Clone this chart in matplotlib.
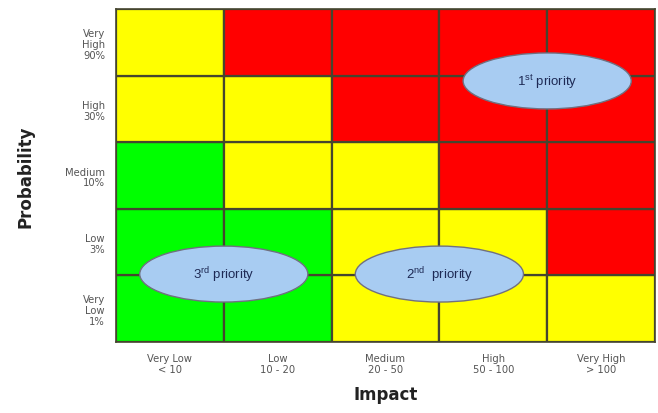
import matplotlib
matplotlib.use("Agg")
import matplotlib.pyplot as plt
from matplotlib.patches import Rectangle, Ellipse

impact_labels = ["Very Low\n< 10", "Low\n10 - 20", "Medium\n20 - 50", "High\n50 - 100", "Very High\n> 100"]
prob_labels = ["Very\nLow\n1%", "Low\n3%", "Medium\n10%", "High\n30%", "Very\nHigh\n90%"]
# risk level per cell, rows bottom (Very Low) to top (Very High), columns Very Low -> Very High impact
risk_grid = [
    ["G", "G", "Y", "Y", "Y"],
    ["G", "G", "Y", "Y", "R"],
    ["G", "Y", "Y", "R", "R"],
    ["Y", "Y", "R", "R", "R"],
    ["Y", "R", "R", "R", "R"],
]
priority_labels = ["1$^{\\mathrm{st}}$ priority", "2$^{\\mathrm{nd}}$  priority", "3$^{\\mathrm{rd}}$ priority"]
priority_centers = [(4.0, 3.92), (3.0, 1.02), (1.0, 1.02)]

colors = {"G": "#00FF00", "Y": "#FFFF00", "R": "#FF0000"}

plt.rcParams["mathtext.fontset"] = "custom"
plt.rcParams["mathtext.rm"] = "Liberation Sans"

fig = plt.figure(figsize=(6.58, 4.14), dpi=100)
ax = fig.add_axes([0.1763, 0.1715, 0.8191, 0.8043])
ax.set_xlim(0, 5)
ax.set_ylim(0, 5)

for r, row in enumerate(risk_grid):
    for c, v in enumerate(row):
        ax.add_patch(Rectangle((c, r), 1, 1, facecolor=colors[v],
                               edgecolor="#45452f", linewidth=1.6, zorder=1))

for lab, (cx, cy) in zip(priority_labels, priority_centers):
    ax.add_patch(Ellipse((cx, cy), 1.56, 0.84, facecolor="#a8ccf2",
                         edgecolor="#707080", linewidth=1.0, zorder=3))
    ax.text(cx, cy, lab, ha="center", va="center", fontsize=9.5,
            color="#1e2a55", family="Liberation Sans", zorder=4)

ax.set_xticks([i + 0.5 for i in range(5)])
ax.set_xticklabels(impact_labels, fontsize=7.2, color="#555555", linespacing=1.1)
ax.set_yticks([i + 0.5 for i in range(5)])
ax.set_yticklabels(prob_labels, fontsize=7.2, color="#555555", linespacing=1.1,
                   ha="right", multialignment="right")
ax.tick_params(length=0, pad=8)
for s in ax.spines.values():
    s.set_color("#45452f")
    s.set_linewidth(1.2)

ax.set_xlabel("Impact", fontsize=12, fontweight="bold", color="#222222", labelpad=8)
ax.set_ylabel("Probability", fontsize=12, fontweight="bold", color="#222222", labelpad=22)

fig.savefig("out.png", dpi=100)
